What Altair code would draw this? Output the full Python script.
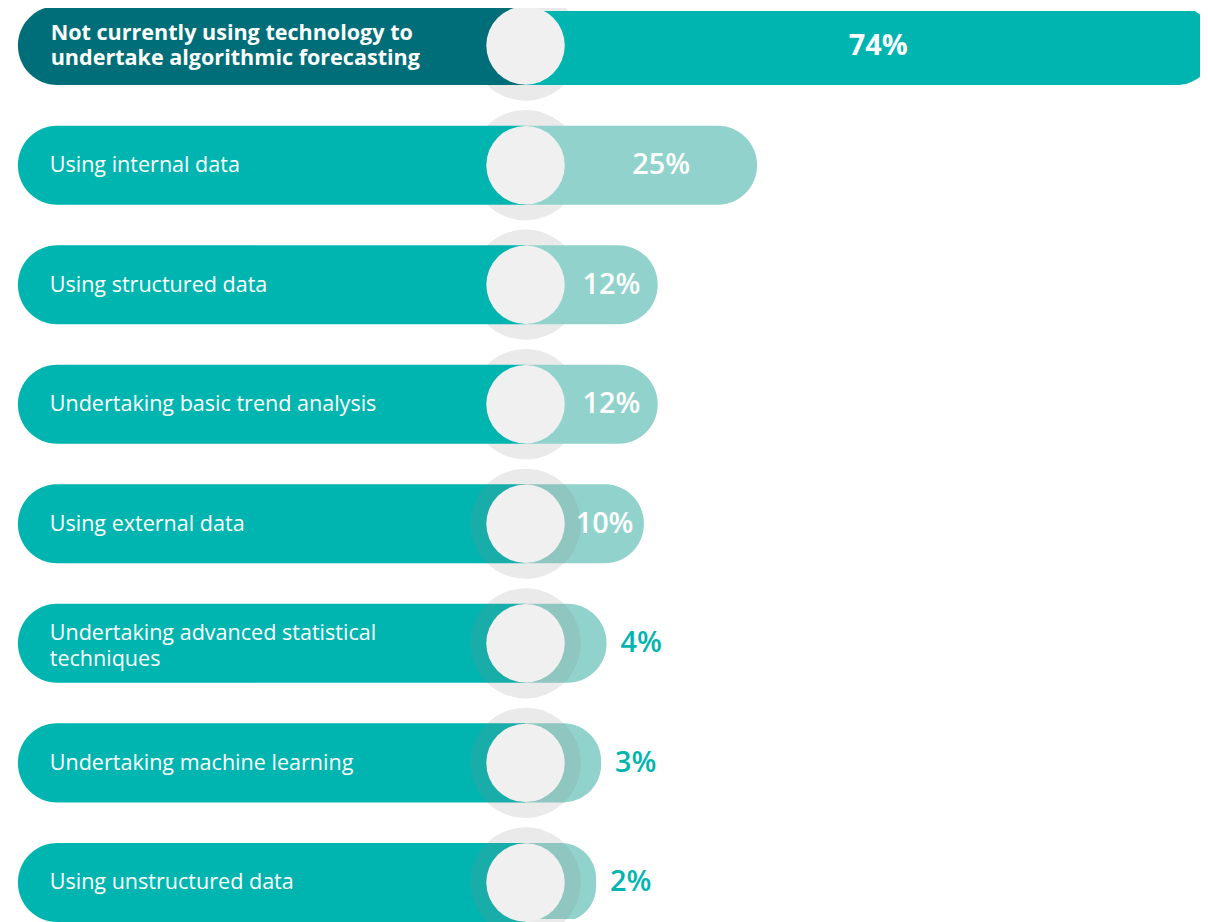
import altair as alt
import pandas as pd

categories = [
    "Not currently using technology to\nundertake algorithmic forecasting",
    "Using internal data",
    "Using structured data",
    "Undertaking basic trend analysis",
    "Using external data",
    "Undertaking advanced statistical\ntechniques",
    "Undertaking machine learning",
    "Using unstructured data",
]
values = [74, 25, 12, 12, 10, 4, 3, 2]
value_labels = ["74%", "25%", "12%", "12%", "10%", "4%", "3%", "2%"]
kinds = ["lead", "other", "other", "other", "other", "other", "other", "other"]

df = pd.DataFrame({
    "category": categories,
    "value": values,
    "vlabel": value_labels,
    "kind": kinds,
})
df["lines"] = [c.count("\n") + 1 for c in categories]

DARK = "#006e78"
TEAL = "#00b5b0"
LIGHT = "#91d3cc"
CIRCLE = "#f0f0f0"
HALO = "#8c8c8c"
FONT = "Open Sans"

EXP = 1.2085
xscale = alt.Scale(type="pow", exponent=EXP, domain=[0, 80], range=[584, 1277.4],
                   nice=False, zero=False)
yenc = alt.Y("category:N", sort=categories, axis=None,
             scale=alt.Scale(paddingInner=0.339, paddingOuter=0, range=[-5, 917]))

CX = 521  # circle centre (plot px)
START = -10.99  # value-scale position under the circle centre

base = alt.Chart(df)

halo_back = base.transform_filter("datum.value > 10").mark_circle(
    size=12321, color=HALO, opacity=0.18
).encode(x=alt.value(CX), y=yenc)

left_pill = base.mark_bar(
    cornerRadiusTopLeft=39.5, cornerRadiusBottomLeft=39.5
).encode(
    x=alt.value(10), x2=alt.value(CX), y=yenc,
    color=alt.when(alt.datum.kind == "lead").then(alt.value(DARK)).otherwise(alt.value(TEAL)),
)

value_bar = base.mark_bar(
    cornerRadiusTopRight=39.5, cornerRadiusBottomRight=39.5, clip=True
).encode(
    x=alt.X("value:Q", scale=xscale, axis=None, stack=None),
    x2=alt.datum(START),
    y=yenc,
    color=alt.when(alt.datum.kind == "lead").then(alt.value(TEAL)).otherwise(alt.value(LIGHT)),
)

halo_front = base.transform_filter("datum.value <= 10").mark_circle(
    size=12321, color=HALO, opacity=0.18
).encode(x=alt.value(CX), y=yenc)

inner = base.mark_circle(size=6241, color=CIRCLE, opacity=1).encode(
    x=alt.value(CX), y=yenc
)

labels_1 = base.transform_filter("datum.kind != 'lead' && datum.lines == 1").mark_text(
    align="left", baseline="middle", font=FONT, fontSize=21.7, color="white"
).encode(x=alt.value(42), y=yenc, text="category:N")

labels_2 = base.transform_filter("datum.kind != 'lead' && datum.lines == 2").mark_text(
    align="left", baseline="middle", font=FONT, fontSize=21.7, color="white",
    lineBreak="\n", lineHeight=26, dy=-10
).encode(x=alt.value(42), y=yenc, text="category:N")

label_lead = base.transform_filter("datum.kind == 'lead'").mark_text(
    align="left", baseline="middle", font=FONT, fontSize=21.7, fontWeight="bold",
    color="white", lineBreak="\n", lineHeight=25, dy=-12.5
).encode(x=alt.value(43), y=yenc, text="category:N")

mid_expr = f"pow((pow(datum.value, {EXP}) - 6.62) / 2, 1 / {EXP})"

val_in = base.transform_filter("datum.value > 4 && datum.kind != 'lead'").transform_calculate(
    mid=mid_expr
).mark_text(
    align="center", baseline="middle", font=FONT, fontSize=29, fontWeight=600,
    color="white"
).encode(x=alt.X("mid:Q", scale=xscale, axis=None), y=yenc, text="vlabel:N")

val_lead = base.transform_filter("datum.kind == 'lead'").transform_calculate(
    mid=mid_expr
).mark_text(
    align="center", baseline="middle", font=FONT, fontSize=29, fontWeight="bold",
    color="white", dx=-12
).encode(x=alt.X("mid:Q", scale=xscale, axis=None), y=yenc, text="vlabel:N")

val_out = base.transform_filter("datum.value <= 4").mark_text(
    align="left", baseline="middle", font=FONT, fontSize=29, fontWeight=600,
    color=TEAL, dx=14
).encode(x=alt.X("value:Q", scale=xscale, axis=None), y=yenc, text="vlabel:N")

chart = alt.layer(
    halo_back, left_pill, value_bar, halo_front, inner,
    labels_1, labels_2, label_lead, val_in, val_lead, val_out
).properties(
    width=1200, height=914, padding=0,
    autosize=alt.AutoSizeParams(type="none"),
    background="white",
).configure_view(stroke=None)

chart.save("out.html", embed_options={"renderer": "svg", "actions": False})
